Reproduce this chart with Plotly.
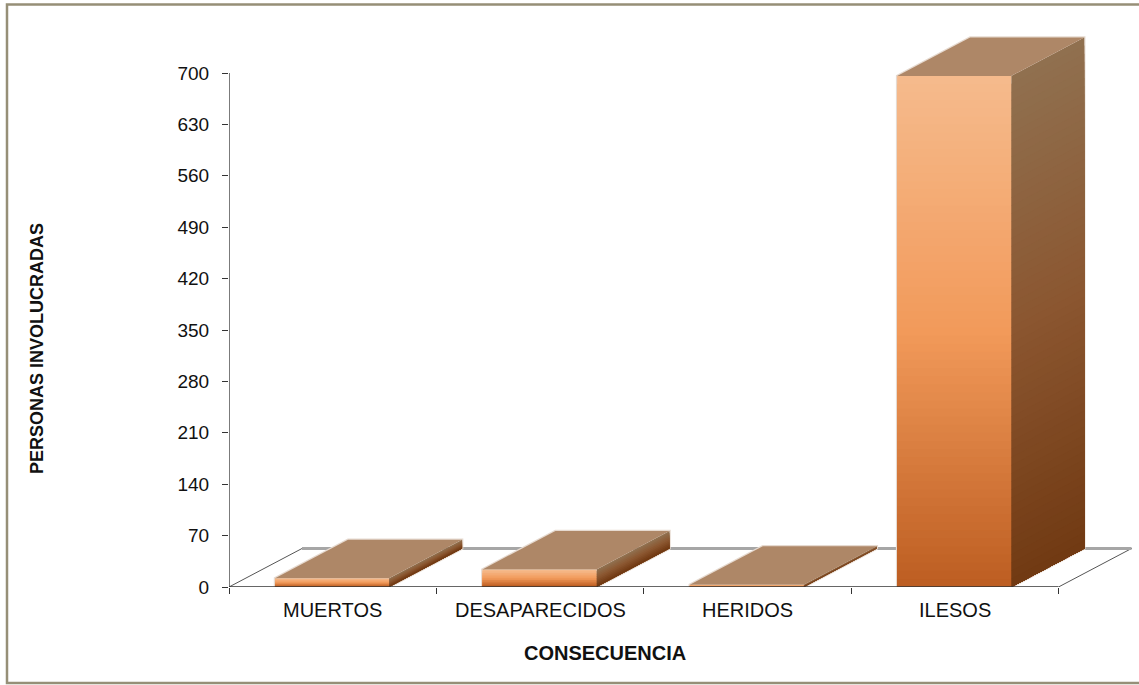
import plotly.graph_objects as go

categories = ["MUERTOS", "DESAPARECIDOS", "HERIDOS", "ILESOS"]
values = [12, 24, 3, 696]
y_ticks = [0, 70, 140, 210, 280, 350, 420, 490, 560, 630, 700]
y_title = "PERSONAS INVOLUCRADAS"
x_title = "CONSECUENCIA"

W, H = 1139, 685
L, R, T, B = 229, 0, 10, 98
PX_X = (1058.5 - 229) / 4      # pixels per category
PX_Y = (587 - 73) / 700        # pixels per unit
DX = 73 / PX_X                 # depth of the 3D projection, data units
DY = 38.5 / PX_Y
GAP = 0.222
BAR_W = 0.55


def hexrgb(c):
    return tuple(int(c[i:i + 2], 16) for i in (1, 3, 5))


def ramp(stops, t):
    for (t0, c0), (t1, c1) in zip(stops, stops[1:]):
        if t <= t1:
            f = (t - t0) / (t1 - t0)
            a, b = hexrgb(c0), hexrgb(c1)
            return "rgb(%d,%d,%d)" % tuple(round(a[i] + (b[i] - a[i]) * f) for i in range(3))
    return stops[-1][1]


FRONT = [(0, "#F5BA8C"), (0.5, "#F29A5A"), (1, "#BD5E22")]
SIDE = [(0, "#90704F"), (0.5, "#8B5630"), (1, "#713A13")]
TOP = "#AE8767"
HALO = "#E6DAD0"

fig = go.Figure()


def poly(xs, ys, color):
    fig.add_trace(go.Scatter(x=xs, y=ys, mode="lines", fill="toself", fillcolor=color,
                             line=dict(width=0), hoverinfo="skip", showlegend=False))


def line(xs, ys, color, width):
    fig.add_trace(go.Scatter(x=xs, y=ys, mode="lines", line=dict(color=color, width=width),
                             hoverinfo="skip", showlegend=False, cliponaxis=False))


# floor
line([0, DX, 4 + DX, 4], [0, DY, DY, 0], "#555555", 1)
line([DX, 4 + DX], [DY, DY], "#A6A6A6", 3)

for i, v in enumerate(values):
    x0, x1 = i + GAP, i + GAP + BAR_W
    n = max(10, int(v * PX_Y / 8))
    # pale edge round the block
    line([x0, x0, x0 + DX, x1 + DX, x1 + DX, x1],
         [0, v, v + DY, v + DY, DY, 0], HALO, 2.5)
    # front and side, painted top to bottom so that slices leave no seams
    for k in range(n):
        t = k / (n - 1)
        y = v * (1 - k / n)
        poly([x1, x1 + DX, x1 + DX, x1, x1], [y, y + DY, DY, 0, y], ramp(SIDE, t))
        poly([x0, x1, x1, x0, x0], [y, y, 0, 0, y], ramp(FRONT, t))
    # top
    poly([x0, x1, x1 + DX, x0 + DX, x0], [v, v, v + DY, v + DY, v], TOP)

# axes
line([0, 0], [0, 700], "#333333", 1.3)
line([0, 4], [0, 0], "#333333", 1.3)

ymax = (H - B - T) / PX_Y
xmax = (W - L - R) / PX_X
font = dict(family="Liberation Sans, Arial, sans-serif", size=20, color="#111111")
tick_font = dict(family="Liberation Sans, Arial, sans-serif", size=19, color="#111111")
title_font = dict(family="Liberation Sans, Arial, sans-serif", size=18, color="#111111")

fig.update_layout(
    width=W, height=H, autosize=False,
    margin=dict(l=L, r=R, t=T, b=B),
    paper_bgcolor="white", plot_bgcolor="rgba(0,0,0,0)",
    font=font, showlegend=False,
    xaxis=dict(range=[0, xmax], showgrid=False, zeroline=False, showline=False,
               tickmode="array", tickvals=[0, 1, 2, 3, 4], ticktext=[""] * 5,
               ticks="outside", ticklen=6, tickcolor="#333333", tickwidth=1.3,
               showticklabels=True),
    yaxis=dict(range=[0, ymax], showgrid=False, zeroline=False, showline=False,
               tickmode="array", tickvals=y_ticks, tickfont=tick_font,
               ticks="outside", ticklen=6, tickcolor="#333333", tickwidth=1.3,
               ticklabelstandoff=9),
    shapes=[dict(type="rect", xref="paper", yref="paper",
                 x0=(7 - L) / (W - L - R), x1=(1145 - L) / (W - L - R),
                 y0=(H - B - 683) / (H - B - T), y1=(H - B - 4.5) / (H - B - T),
                 line=dict(color="#968F77", width=2.5), layer="below")],
    annotations=[
        dict(x=i + 0.5, y=0, xref="x", yref="y", yshift=-23, text=c, showarrow=False,
             font=font, xanchor="center", yanchor="middle")
        for i, c in enumerate(categories)
    ] + [
        dict(xref="paper", x=(605 - L) / (W - L - R), y=0, yref="y", yshift=-66,
             text="<b>%s</b>" % x_title, showarrow=False, font=font,
             xanchor="center", yanchor="middle"),
        dict(xref="paper", yref="paper", x=(37 - L) / (W - L - R), y=(H - B - 349) / (H - B - T),
             text="<b>%s</b>" % y_title, textangle=-90, showarrow=False, font=title_font,
             xanchor="center", yanchor="middle"),
    ],
)

fig.write_html("out.html", config=dict(displayModeBar=False),
               post_script="document.body.style.margin='0';document.body.style.overflow='hidden';")
